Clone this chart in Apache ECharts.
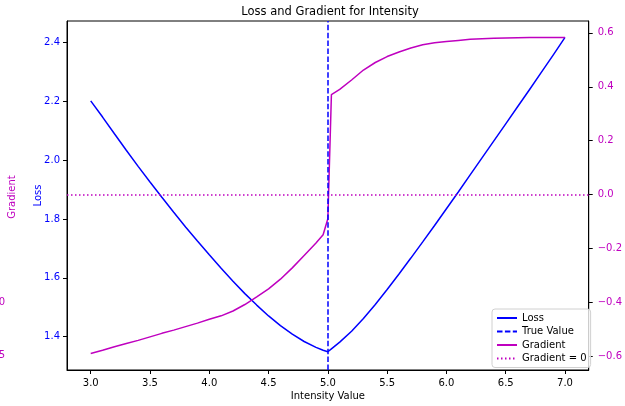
<!DOCTYPE html>
<html>
<head>
<meta charset="utf-8">
<script src="https://cdn.jsdelivr.net/npm/echarts@6/dist/echarts.min.js"></script>
<style>
  html, body { margin: 0; padding: 0; background: #fff; }
  #chart { width: 625px; height: 406px; }
</style>
</head>
<body>
<div id="chart"></div>
<script>
// values
const intensity = [3.0, 3.1, 3.2, 3.3, 3.4, 3.5, 3.6, 3.7, 3.8, 3.9,
  4.0, 4.1, 4.2, 4.3, 4.4, 4.5, 4.6, 4.7, 4.8, 4.9, 4.96, 5.0, 5.03,
  5.1, 5.2, 5.3, 5.4, 5.5, 5.6, 5.7, 5.8, 5.9, 6.0,
  6.1, 6.2, 6.3, 6.4, 6.5, 6.6, 6.7, 6.8, 6.9, 7.0];
const loss = [2.202, 2.147, 2.090, 2.034, 1.979, 1.926, 1.874, 1.823, 1.773, 1.725,
  1.678, 1.632, 1.588, 1.546, 1.507, 1.470, 1.437, 1.408, 1.383, 1.363, 1.353, 1.348, 1.358,
  1.381, 1.418, 1.461, 1.509, 1.560, 1.613, 1.667, 1.722, 1.778, 1.835,
  1.892, 1.950, 2.008, 2.066, 2.124, 2.182, 2.240, 2.299, 2.358, 2.418];
const gradient = [-0.590, -0.578, -0.565, -0.553, -0.541, -0.528, -0.515, -0.503, -0.490, -0.477,
  -0.463, -0.450, -0.432, -0.408, -0.380, -0.350, -0.314, -0.272, -0.226, -0.180, -0.149, -0.090, 0.371,
  0.390, 0.425, 0.462, 0.490, 0.512, 0.529, 0.544, 0.556, 0.563, 0.568,
  0.572, 0.576, 0.578, 0.580, 0.581, 0.582, 0.583, 0.583, 0.583, 0.583];
const trueValue = 5.0;
const gradientZero = 0;

const xTicks = [3.0, 3.5, 4.0, 4.5, 5.0, 5.5, 6.0, 6.5, 7.0];
const lossTicks = [1.4, 1.6, 1.8, 2.0, 2.2, 2.4];
const gradTicks = [-0.6, -0.4, -0.2, 0.0, 0.2, 0.4, 0.6];

const BLUE = '#0000ff';
const MAGENTA = '#bf00bf';
const FONT = 'DejaVu Sans';

const fmt = v => (v < 0 ? '\u2212' : '') + Math.abs(v).toFixed(1);

const chart = echarts.init(document.getElementById('chart'));

chart.setOption({
  animation: false,
  textStyle: { fontFamily: FONT },
  title: {
    text: 'Loss and Gradient for Intensity',
    left: 330,
    textAlign: 'center',
    top: 6,
    padding: 0,
    textStyle: { fontSize: 11.5, fontWeight: 'normal', color: '#000', fontFamily: FONT }
  },
  grid: {
    left: 67, right: 33, top: 21, bottom: 31,
    show: true, borderColor: '#000', borderWidth: 1
  },
  legend: {
    orient: 'vertical',
    left: 492, top: 309,
    padding: [4, 4, 4, 4],
    itemGap: 3.5,
    itemWidth: 20,
    itemHeight: 11,
    backgroundColor: 'rgba(255,255,255,0.8)',
    borderColor: '#d0d0d0',
    borderWidth: 1,
    borderRadius: 3,
    itemStyle: { opacity: 0 },
    textStyle: { fontSize: 10, color: '#000', fontFamily: FONT },
    data: ['Loss', 'True Value', 'Gradient', 'Gradient = 0']
  },
  xAxis: {
    type: 'value',
    min: 2.8, max: 7.2,
    name: 'Intensity Value',
    nameLocation: 'middle',
    nameGap: 21,
    nameMoveOverlap: false,
    nameTextStyle: { fontSize: 10, color: '#000' },
    splitLine: { show: false },
    axisLine: { show: true, onZero: false, lineStyle: { color: '#000', width: 1 } },
    axisTick: { show: true, inside: false, length: 4, customValues: xTicks, lineStyle: { color: '#000' } },
    axisLabel: { customValues: xTicks, formatter: fmt, fontSize: 10, color: '#000', margin: 8 }
  },
  yAxis: [
    {
      type: 'value',
      position: 'left',
      min: 1.286, max: 2.474,
      name: 'Loss',
      nameLocation: 'middle',
      nameGap: 24,
      nameMoveOverlap: false,
      nameTextStyle: { fontSize: 10, color: BLUE },
      splitLine: { show: false },
      axisLine: { show: true, onZero: false, lineStyle: { color: '#000', width: 1 } },
      axisTick: { show: true, inside: false, length: 4, customValues: lossTicks, lineStyle: { color: '#000' } },
      axisLabel: { customValues: lossTicks, formatter: fmt, fontSize: 10, color: BLUE, margin: 7 }
    },
    {
      type: 'value',
      position: 'right',
      min: -0.651, max: 0.644,
      splitLine: { show: false },
      axisLine: { show: true, onZero: false, lineStyle: { color: '#000', width: 1 } },
      axisTick: { show: true, inside: false, length: 4, customValues: gradTicks, lineStyle: { color: '#000' } },
      axisLabel: { customValues: gradTicks, formatter: fmt, fontSize: 10, color: MAGENTA, margin: 9 }
    }
  ],
  graphic: [
    {
      type: 'text', x: 12.5, y: 197, rotation: Math.PI / 2,
      style: { text: 'Gradient', fill: MAGENTA, font: '10px "DejaVu Sans"', align: 'center', verticalAlign: 'middle' }
    },
    {
      type: 'text', x: 5, y: 302,
      style: { text: '0', fill: MAGENTA, font: '10px "DejaVu Sans"', align: 'right', verticalAlign: 'middle' }
    },
    {
      type: 'text', x: 5, y: 355,
      style: { text: '5', fill: MAGENTA, font: '10px "DejaVu Sans"', align: 'right', verticalAlign: 'middle' }
    }
  ],
  series: [
    {
      name: 'Loss',
      type: 'line',
      yAxisIndex: 0,
      data: intensity.map((x, i) => [x, loss[i]]),
      symbol: 'none',
      color: BLUE,
      lineStyle: { color: BLUE, width: 1.5 },
      z: 2
    },
    {
      name: 'True Value',
      type: 'line',
      yAxisIndex: 0,
      data: [],
      symbol: 'none',
      color: BLUE,
      lineStyle: { color: BLUE, width: 1.5, type: [5.5, 2.4] },
      markLine: {
        silent: true,
        symbol: ['none', 'none'],
        label: { show: false },
        lineStyle: { color: BLUE, width: 1.5, type: [5.5, 2.4] },
        data: [{ xAxis: trueValue }]
      },
      z: 2
    },
    {
      name: 'Gradient',
      type: 'line',
      yAxisIndex: 1,
      data: intensity.map((x, i) => [x, gradient[i]]),
      symbol: 'none',
      color: MAGENTA,
      lineStyle: { color: MAGENTA, width: 1.5 },
      z: 3
    },
    {
      name: 'Gradient = 0',
      type: 'line',
      yAxisIndex: 1,
      data: [],
      symbol: 'none',
      color: MAGENTA,
      lineStyle: { color: MAGENTA, width: 1.5, type: [1.5, 2.5] },
      markLine: {
        silent: true,
        symbol: ['none', 'none'],
        label: { show: false },
        lineStyle: { color: MAGENTA, width: 1.5, type: [1.5, 2.5] },
        data: [{ yAxis: gradientZero }]
      },
      z: 3
    }
  ]
});
</script>
</body>
</html>
